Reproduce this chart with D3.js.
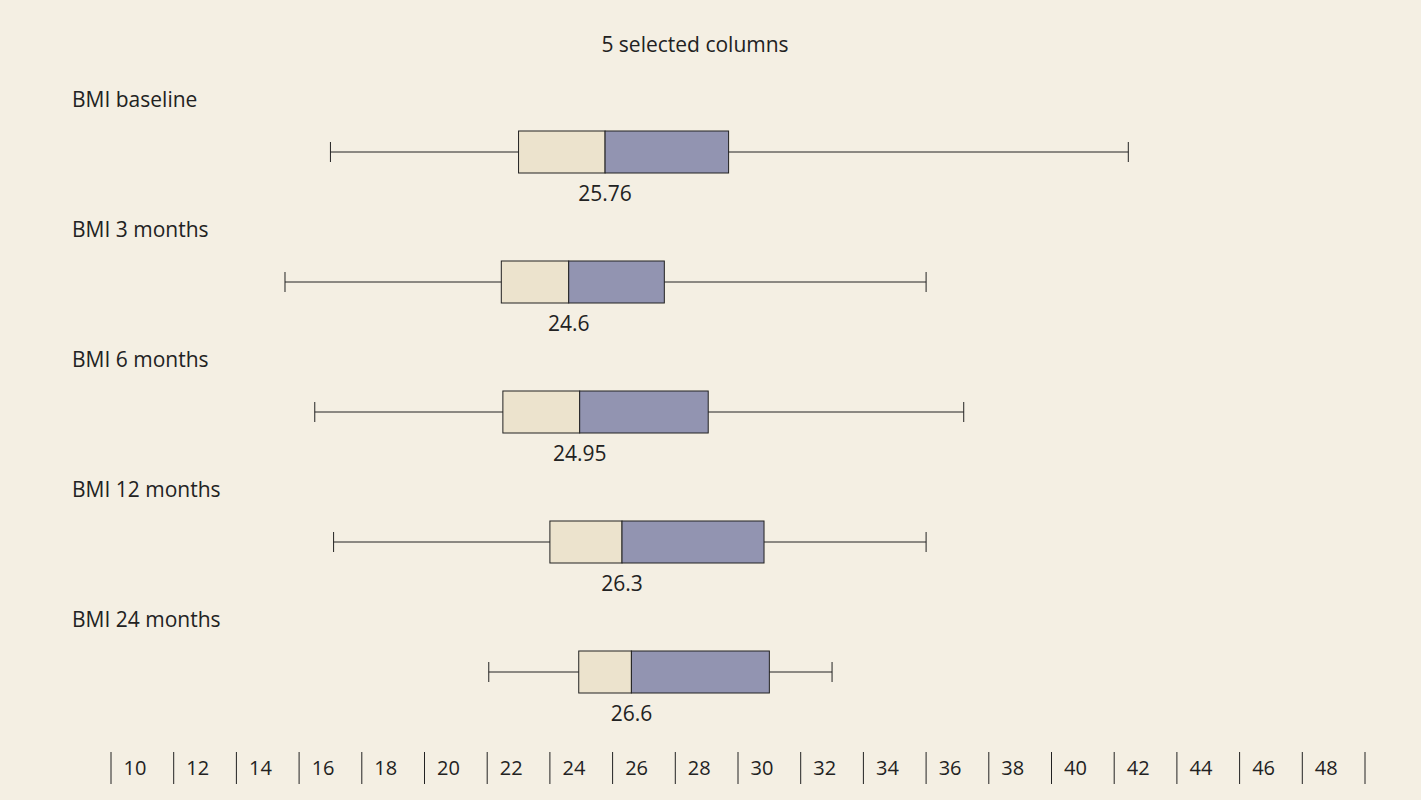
<!DOCTYPE html><html><head><meta charset="utf-8"><script src="https://cdn.jsdelivr.net/npm/d3@7"></script>
<style>body{margin:0;background:#f4efe3}svg{display:block}</style></head><body><svg id="c" width="1421" height="800"></svg>
<script>
const categories=["BMI baseline","BMI 3 months","BMI 6 months","BMI 12 months","BMI 24 months"];
const mins=[17.0,15.55,16.5,17.1,22.05];
const q1s=[23.0,22.45,22.5,24.0,24.92];
const medians=[25.76,24.6,24.95,26.3,26.6];
const q3s=[29.7,27.65,29.05,30.83,31.0];
const maxs=[42.45,36.0,37.2,36.0,33.0];
const tickValues=d3.range(10,50,2);
const svg=d3.select("#c");const F="'Open Sans',Lato,sans-serif";
svg.append("rect").attr("width",1421).attr("height",800).attr("fill","#f4efe3");
const x=d3.scaleLinear().domain([10,50]).range([111,1365]);
svg.append("text").attr("x",695).attr("y",52).attr("text-anchor","middle").attr("font-family",F).attr("font-size",21).attr("fill","#222").text("5 selected columns");
const ys=i=>152+i*130, h=42;
categories.forEach((c,i)=>{
 const g=svg.append("g"),y=ys(i);
 g.append("text").attr("x",72).attr("y",y-45).attr("font-family",F).attr("font-size",21).attr("fill","#222").text(c);
 g.append("line").attr("x1",x(mins[i])).attr("x2",x(maxs[i])).attr("y1",y).attr("y2",y).attr("stroke","#222");
 [mins[i],maxs[i]].forEach(v=>g.append("line").attr("x1",x(v)).attr("x2",x(v)).attr("y1",y-10).attr("y2",y+10).attr("stroke","#222"));
 g.append("rect").attr("x",x(q1s[i])).attr("y",y-h/2).attr("width",x(medians[i])-x(q1s[i])).attr("height",h).attr("fill","#ece3cd").attr("stroke","#222");
 g.append("rect").attr("x",x(medians[i])).attr("y",y-h/2).attr("width",x(q3s[i])-x(medians[i])).attr("height",h).attr("fill","#9294b1").attr("stroke","#222");
 g.append("text").attr("x",x(medians[i])).attr("y",y+49).attr("text-anchor","middle").attr("font-family",F).attr("font-size",21).attr("fill","#222").text(medians[i]);
});
const ax=svg.append("g");
tickValues.concat([50]).forEach(v=>ax.append("line").attr("x1",x(v)).attr("x2",x(v)).attr("y1",752).attr("y2",784).attr("stroke","#222"));
tickValues.forEach(v=>ax.append("text").attr("x",x(v)+24).attr("y",775).attr("text-anchor","middle").attr("font-family",F).attr("font-size",20).attr("fill","#222").text(v));
</script></body></html>
